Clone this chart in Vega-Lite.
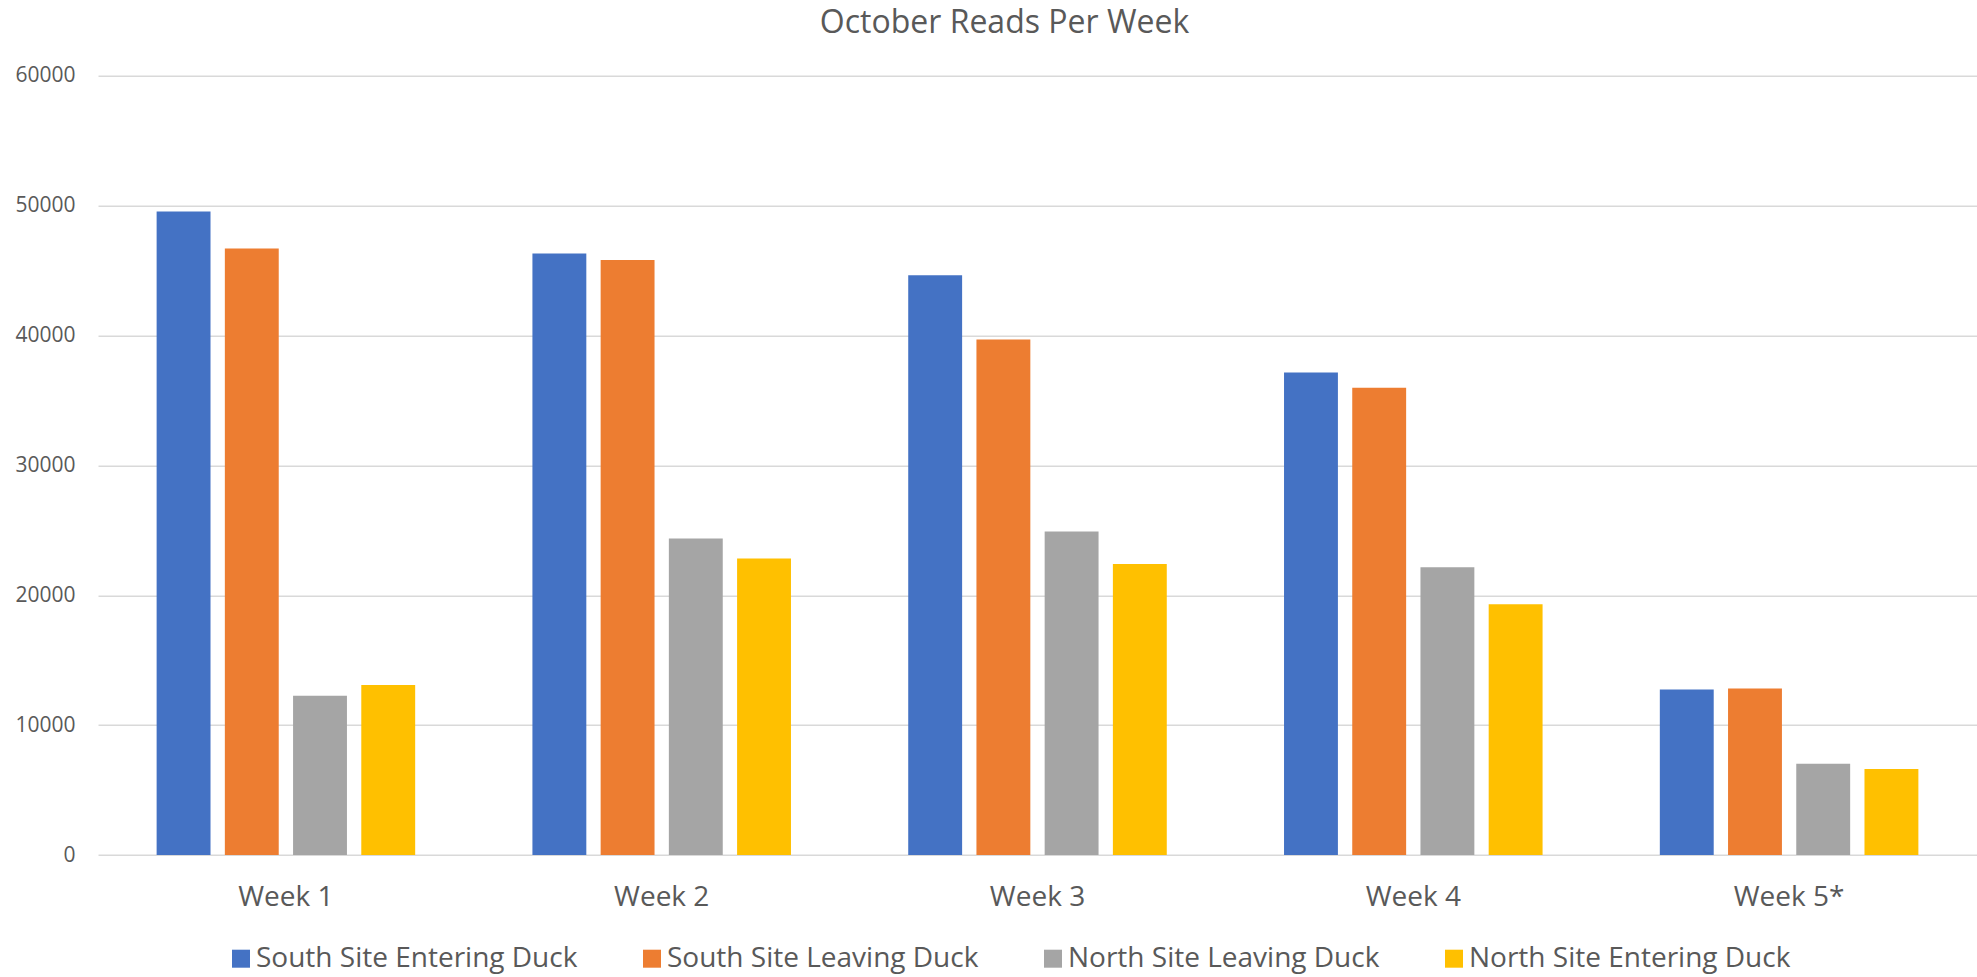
{
  "$schema": "https://vega.github.io/schema/vega-lite/v6.json",
  "autosize": "none",
  "width": 1879,
  "height": 779.3,
  "padding": {"left": 98, "top": 75.7, "right": 0, "bottom": 122},
  "background": "white",
  "title": {
    "text": "October Reads Per Week",
    "fontSize": 32,
    "font": "Open Sans",
    "fontWeight": "normal",
    "color": "#595959",
    "anchor": "middle",
    "dx": -33,
    "baseline": "alphabetic",
    "offset": 0
  },
  "data": {
    "values": [
      {"week": "Week 1", "series": "South Site Entering Duck", "reads": 49550},
      {"week": "Week 1", "series": "South Site Leaving Duck", "reads": 46700},
      {"week": "Week 1", "series": "North Site Leaving Duck", "reads": 12270},
      {"week": "Week 1", "series": "North Site Entering Duck", "reads": 13090},
      {"week": "Week 2", "series": "South Site Entering Duck", "reads": 46320},
      {"week": "Week 2", "series": "South Site Leaving Duck", "reads": 45810},
      {"week": "Week 2", "series": "North Site Leaving Duck", "reads": 24360},
      {"week": "Week 2", "series": "North Site Entering Duck", "reads": 22820},
      {"week": "Week 3", "series": "South Site Entering Duck", "reads": 44640},
      {"week": "Week 3", "series": "South Site Leaving Duck", "reads": 39690},
      {"week": "Week 3", "series": "North Site Leaving Duck", "reads": 24910},
      {"week": "Week 3", "series": "North Site Entering Duck", "reads": 22410},
      {"week": "Week 4", "series": "South Site Entering Duck", "reads": 37150},
      {"week": "Week 4", "series": "South Site Leaving Duck", "reads": 35980},
      {"week": "Week 4", "series": "North Site Leaving Duck", "reads": 22160},
      {"week": "Week 4", "series": "North Site Entering Duck", "reads": 19310},
      {"week": "Week 5*", "series": "South Site Entering Duck", "reads": 12736},
      {"week": "Week 5*", "series": "South Site Leaving Duck", "reads": 12814},
      {"week": "Week 5*", "series": "North Site Leaving Duck", "reads": 7023},
      {"week": "Week 5*", "series": "North Site Entering Duck", "reads": 6612}
    ]
  },
  "mark": {"type": "bar"},
  "encoding": {
    "x": {
      "field": "week",
      "type": "nominal",
      "sort": ["Week 1", "Week 2", "Week 3", "Week 4", "Week 5*"],
      "scale": {"paddingInner": 0.312, "paddingOuter": 0.156},
      "axis": {
        "title": null,
        "labelAngle": 0,
        "labelFont": "Open Sans",
        "labelFontSize": 28,
        "labelColor": "#595959",
        "labelPadding": 28,
        "ticks": false,
        "domain": false,
        "grid": false
      }
    },
    "xOffset": {
      "field": "series",
      "type": "nominal",
      "sort": ["South Site Entering Duck", "South Site Leaving Duck", "North Site Leaving Duck", "North Site Entering Duck"],
      "scale": {"paddingInner": 0.21, "paddingOuter": 0}
    },
    "y": {
      "field": "reads",
      "type": "quantitative",
      "scale": {"domain": [0, 60000], "nice": false},
      "axis": {
        "title": null,
        "values": [0, 10000, 20000, 30000, 40000, 50000, 60000],
        "format": "d",
        "labelFont": "Open Sans",
        "labelFontSize": 21,
        "labelColor": "#595959",
        "labelPadding": 23,
        "ticks": false,
        "domain": false,
        "grid": true,
        "gridColor": "#D9D9D9",
        "gridWidth": 1.5
      }
    },
    "color": {
      "field": "series",
      "type": "nominal",
      "scale": {
        "domain": ["South Site Entering Duck", "South Site Leaving Duck", "North Site Leaving Duck", "North Site Entering Duck"],
        "range": ["#4472C4", "#ED7D31", "#A5A5A5", "#FFC000"]
      },
      "legend": {
        "title": null,
        "orient": "none",
        "direction": "horizontal",
        "gridAlign": "none",
        "legendX": 129,
        "legendY": 869,
        "symbolType": "square",
        "symbolSize": 324,
        "symbolStrokeWidth": 0,
        "symbolOpacity": 1,
        "labelFont": "Open Sans",
        "labelFontSize": 28,
        "labelColor": "#595959",
        "labelOffset": 1,
        "columnPadding": 60,
        "labelLimit": 0
      }
    }
  },
  "config": {
    "view": {"stroke": null}
  }
}
